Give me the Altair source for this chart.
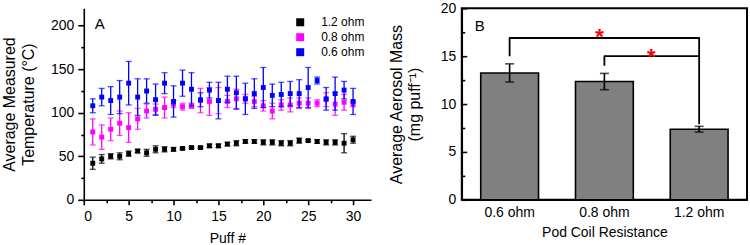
import altair as alt
import pandas as pd

FONT = "Liberation Sans"

# ---------------- Panel A data ----------------
puff = list(range(1, 31))
series_names = ["1.2 ohm", "0.8 ohm", "0.6 ohm"]
series_colors = ["#000000", "#ff00ff", "#0000ff"]

temp_12 = [42, 47, 50, 50, 53, 56, 54, 58, 58, 58, 59, 60, 60, 62, 62,
           64, 65, 67, 67, 66, 66, 65, 65, 68, 68, 67, 66, 66, 65, 69]
err_12 = [7, 5, 3, 4, 3, 2, 4, 4, 3, 2, 1, 1, 1, 2, 2,
          2, 3, 2, 2, 3, 3, 3, 3, 3, 1, 2, 3, 3, 11, 4]

temp_08 = [78, 72, 81, 88, 83, 93, 102, 104, 106, 110, 107, 108, 114, 113, 114,
           113, 116, 116, 113, 108, 102, 109, 109, 111, 111, 111, 115, 110, 112, 110]
err_08 = [15, 14, 13, 14, 17, 12, 8, 6, 12, 4, 4, 3, 14, 16, 15,
          7, 11, 5, 6, 6, 9, 6, 8, 6, 6, 4, 8, 13, 9, 3]

temp_06 = [108, 118, 114, 118, 134, 118, 125, 115, 134, 113, 134, 127, 115, 126, 114,
           127, 123, 116, 122, 129, 120, 121, 122, 122, 129, 137, 116, 122, 126, 113]
err_06 = [8, 10, 16, 19, 25, 21, 14, 18, 12, 18, 15, 19, 8, 9, 21,
          15, 19, 18, 17, 23, 13, 14, 14, 16, 23, 4, 13, 19, 10, 15]

# ---------------- Panel B data ----------------
coil = ["0.6 ohm", "0.8 ohm", "1.2 ohm"]
mass = [13.25, 12.35, 7.37]
mass_err = [0.95, 0.85, 0.3]

# significance brackets (category, value, order, group)
br_cat = ["0.6 ohm", "0.6 ohm", "1.2 ohm", "1.2 ohm", "0.8 ohm", "0.8 ohm", "1.2 ohm"]
br_val = [15.0, 16.9, 16.9, 7.9, 14.0, 15.0, 15.0]
br_ord = [0, 1, 2, 3, 0, 1, 2]
br_grp = ["a", "a", "a", "a", "b", "b", "b"]
star_cat = ["0.8 ohm", "0.8 ohm"]
star_val = [17.0, 14.95]
star_dx = [-5, 47]

# ---------------- Panel A ----------------
rows = []
for name, vals, errs in zip(series_names, [temp_12, temp_08, temp_06], [err_12, err_08, err_06]):
    for p, v, e in zip(puff, vals, errs):
        rows.append(dict(puff=p, temp=v, lo=v - e, hi=v + e, series=name))
dfA = pd.DataFrame(rows)

x_vals = [i * 2.5 for i in range(13)]
y_vals = [i * 25 for i in range(9)]

axis_common = dict(grid=False, domainColor="black", domainWidth=1.6, tickColor="black",
                   tickWidth=1.6, labelFont=FONT, labelFontSize=14, labelColor="black",
                   titleFont=FONT, titleFontWeight="normal", titleColor="black")

def xA(field="puff"):
    return alt.X(f"{field}:Q", scale=alt.Scale(domain=[0, 32], nice=False),
                 axis=alt.Axis(title="Puff #", values=x_vals,
                               labelExpr="datum.value % 5 === 0 ? datum.label : ''",
                               tickSize={"condition": {"test": "datum.value % 5 !== 0", "value": 3}, "value": 5},
                               labelPadding=5, titlePadding=8, titleFontSize=14, **axis_common))

def yA(field):
    return alt.Y(f"{field}:Q", scale=alt.Scale(domain=[0, 220], nice=False),
                 axis=alt.Axis(title=["Average Measured", "Temperature (\u00b0C)"], values=y_vals,
                               labelExpr="datum.value % 50 === 0 ? datum.label : ''",
                               tickSize={"condition": {"test": "datum.value % 50 !== 0", "value": 3}, "value": 6},
                               labelPadding=4, titlePadding=14, titleFontSize=16, titleLineHeight=19,
                               **axis_common))

color = alt.Color("series:N", scale=alt.Scale(domain=series_names, range=series_colors),
                  legend=alt.Legend(title=None, orient="none", legendX=211, legendY=8,
                                    symbolType="square", symbolSize=64, symbolStrokeWidth=0,
                                    labelFont=FONT, labelFontSize=12, labelColor="black",
                                    labelOffset=15, rowPadding=3))

layersA = []
for name, c in zip(series_names, series_colors):
    base = alt.Chart(dfA[dfA.series == name])
    layersA.append(base.mark_rule(strokeWidth=1.3, color=c).encode(x=xA(), y=yA("lo"), y2="hi:Q"))
    layersA.append(base.mark_tick(orient="horizontal", size=6, thickness=1.3, color=c)
                   .encode(x=xA(), y=yA("lo")))
    layersA.append(base.mark_tick(orient="horizontal", size=6, thickness=1.3, color=c)
                   .encode(x=xA(), y=yA("hi")))
    layersA.append(base.mark_square(size=24, opacity=1).encode(x=xA(), y=yA("temp"), color=color))

labelA = alt.Chart(pd.DataFrame({"t": ["A"]})).mark_text(
    font=FONT, fontSize=15, color="black", align="center", baseline="middle"
).encode(x=alt.value(16), y=alt.value(16), text="t:N")

chartA = alt.layer(*layersA, labelA).properties(
    width=288, height=192, view=alt.ViewBackground(stroke="transparent"))

# ---------------- Panel B ----------------
dfB = pd.DataFrame({"coil": coil, "mass": mass, "lo": [m - e for m, e in zip(mass, mass_err)],
                    "hi": [m + e for m, e in zip(mass, mass_err)]})

xscaleB = alt.Scale(domain=coil, paddingInner=0.39, paddingOuter=0.2)
xB = alt.X("coil:N", scale=xscaleB, sort=coil,
           axis=alt.Axis(title="Pod Coil Resistance", labelAngle=0, ticks=False, labelPadding=6,
                         titlePadding=6, titleFontSize=14, **axis_common))
yscaleB = alt.Scale(domain=[0, 20], nice=False)

yB_main = alt.Y("mass:Q", scale=yscaleB,
                axis=alt.Axis(orient="left", title=["Average Aerosol Mass", "(mg puff\u207b\u00b9)"],
                              values=[0, 5, 10, 15, 20], ticks=False, labelPadding=6, titlePadding=18,
                              titleLineHeight=18, titleFontSize=16, **axis_common))
yB_major = alt.Y("lo:Q", scale=yscaleB,
                 axis=alt.Axis(orient="left", title=None, values=[0, 5, 10, 15, 20], labels=False,
                               domain=False, offset=-5, tickSize=5, tickColor="black", tickWidth=1.6,
                               grid=False))
yB_minor = alt.Y("hi:Q", scale=yscaleB,
                 axis=alt.Axis(orient="left", title=None, values=[2.5, 7.5, 12.5, 17.5], labels=False,
                               domain=False, offset=-3, tickSize=3, tickColor="black", tickWidth=1.6,
                               grid=False))

bars = alt.Chart(dfB).mark_bar(color="#808080", stroke="black", strokeWidth=1.6).encode(
    x=xB, y=yB_main)
err_rule = alt.Chart(dfB).mark_rule(color="black", strokeWidth=1.6).encode(
    x=xB, y=yB_major, y2="hi:Q")
cap_hi = alt.Chart(dfB).mark_tick(orient="horizontal", size=9, thickness=1.6, color="black").encode(
    x=xB, y=yB_minor)
cap_lo = alt.Chart(dfB).mark_tick(orient="horizontal", size=9, thickness=1.6, color="black").encode(
    x=xB, y=alt.Y("lo:Q", scale=yscaleB, axis=None))

dfBr = pd.DataFrame({"coil": br_cat, "v": br_val, "o": br_ord, "g": br_grp})
brackets = alt.Chart(dfBr).mark_line(color="black", strokeWidth=1.8, strokeJoin="round").encode(
    x=xB, y=alt.Y("v:Q", scale=yscaleB, axis=None), order="o:Q", detail="g:N")

stars = []
for c, v, dx in zip(star_cat, star_val, star_dx):
    stars.append(alt.Chart(pd.DataFrame({"coil": [c], "v": [v], "t": ["*"]})).mark_text(
        font=FONT, fontSize=22, fontWeight="bold", color="#ff0000", dx=dx, baseline="middle",
        align="center").encode(x=xB, y=alt.Y("v:Q", scale=yscaleB, axis=None), text="t:N"))

labelB = alt.Chart(pd.DataFrame({"t": ["B"]})).mark_text(
    font=FONT, fontSize=15, color="black", align="center", baseline="middle"
).encode(x=alt.value(18), y=alt.value(18), text="t:N")

chartB = alt.layer(bars, err_rule, cap_hi, cap_lo, brackets, *stars, labelB).resolve_axis(
    y="independent").properties(
    width=286, height=192, view=alt.ViewBackground(stroke="black", strokeWidth=2))

chart = alt.hconcat(chartA, chartB, spacing=15).properties(
    padding={"left": 1, "top": 0, "right": 2, "bottom": 0}, background="white")

chart.save("out.html", embed_options={"renderer": "svg", "actions": False})
